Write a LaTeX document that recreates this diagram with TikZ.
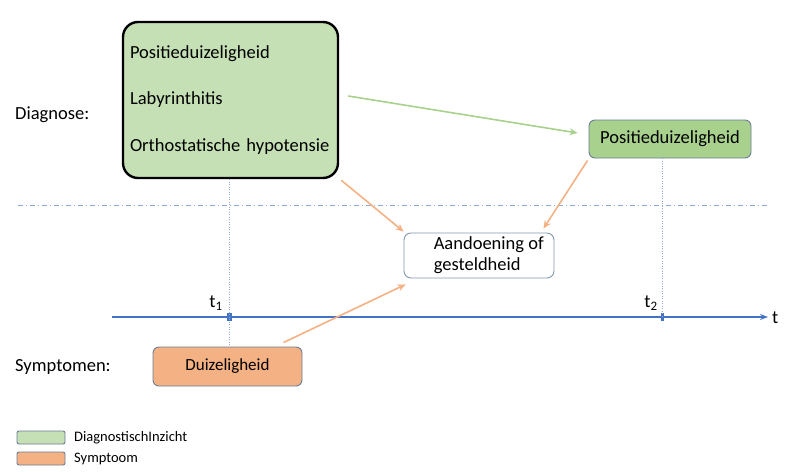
\documentclass[tikz,border=0pt]{standalone}
\usepackage{fontspec}
\setmainfont{Carlito}
\usetikzlibrary{arrows.meta}
\definecolor{gfill}{HTML}{C5E0B4}
\definecolor{gfill2}{HTML}{A9D18E}
\definecolor{ofill}{HTML}{F4B183}
\definecolor{bord}{HTML}{6B7C96}
\definecolor{bord2}{HTML}{8497B0}
\definecolor{tblue}{HTML}{4472C4}
\definecolor{dotblue}{HTML}{8FAADC}
\definecolor{garrow}{HTML}{A9D18E}
\definecolor{oarrow}{HTML}{F4B183}
\tikzset{
  txt/.style={font=\fontsize{18.5}{22}\selectfont, inner sep=0pt},
  smallbox/.style={draw=bord, line width=0.9pt, rounded corners=6pt, inner sep=0pt, font=\fontsize{18.5}{22}\selectfont},
  garr/.style={draw=garrow, line width=1.6pt, -{Stealth[length=8pt,width=7pt]}},
  oarr/.style={draw=oarrow, line width=1.6pt, -{Stealth[length=8pt,width=7pt]}},
  vdot/.style={draw=dotblue, line width=0.7pt, dash pattern=on 1pt off 1.5pt},
  legbox/.style={draw=bord, line width=0.9pt, rounded corners=2pt, minimum width=48pt, minimum height=13pt, inner sep=0pt},
  legtxt/.style={font=\fontsize{14.5}{17}\selectfont, inner sep=0pt, anchor=west},
}
\begin{document}
\begin{tikzpicture}[x=1pt,y=-1pt]
\useasboundingbox (0,0) rectangle (800,471);
% main diagnosis box
\node[draw=black, line width=2.4pt, fill=gfill, rounded corners=15pt, minimum width=215pt, minimum height=156pt, text width=201pt, inner xsep=7pt, inner ysep=0pt, align=left, font=\fontsize{18.5}{46.5}\selectfont] (diag) at (230.5,100) {Positieduizeligheid\\Labyrinthitis\\Orthostatische hypotensie};
\node[txt, anchor=west] (dlab) at (15,115) {Diagnose:};
\node[txt, anchor=west] (slab) at (15,367) {Symptomen:};
% positie box
\node[smallbox, fill=gfill2, minimum width=162pt, minimum height=38pt] (pos) at (670,139) {Positieduizeligheid};
% horizontal dashed line
\coordinate (hl1) at (18,205);
\coordinate (hl2) at (770,205);
\draw[draw=dotblue, line width=0.8pt, dash pattern=on 5pt off 3pt on 1pt off 3pt] (hl1) -- (hl2);
% aandoening
\node[draw=bord2, line width=0.9pt, rounded corners=7pt, fill=white, minimum width=150pt, minimum height=45pt, inner sep=0pt] (aand) at (479,255.5) {};
\node[font=\fontsize{18.5}{21}\selectfont, inner sep=0pt, align=left, anchor=west] (aandtxt) at ([xshift=30pt]aand.west) {Aandoening of\\gesteldheid};
% timeline
\coordinate (ta) at (112,317);
\coordinate (tb) at (768,317);
\draw[draw=tblue, line width=1.3pt, -{Stealth[length=8pt,width=6pt]}] (ta) -- (tb);
\node[txt, anchor=west] (tlab) at (772,318) {t};
\coordinate (t1) at (229,317);
\coordinate (t2) at (662,317);
\fill[tblue] (226.5,313) rectangle (231.5,321);
\fill[tblue] (660.5,313) rectangle (663.5,321);
\node[txt] (t1lab) at (216,303) {t\textsubscript{1}};
\node[txt] (t2lab) at (651,303) {t\textsubscript{2}};
% duizeligheid
\node[smallbox, fill=ofill, minimum width=149pt, minimum height=39pt, font=\fontsize{17}{20}\selectfont] (duiz) at (227.5,366.5) {Duizeligheid};
% vertical dotted
\draw[vdot] (diag.south -| t1) -- (duiz.north -| t1);
\draw[vdot] (pos.south -| t2) -- (t2);
% arrows
\draw[garr] ([xshift=9pt,yshift=4pt]diag.east) -- ([xshift=-11pt,yshift=6pt]pos.west);
\draw[oarr] ([xshift=2pt,yshift=-1pt]diag.south east) -- ([yshift=1pt]aand.north west);
\draw[oarr] ([xshift=-1pt,yshift=-2pt]pos.south west) -- ([xshift=-11pt,yshift=4pt]aand.north east);
\draw[oarr] ([xshift=-19pt,yshift=4pt]duiz.north east) -- ([xshift=2pt,yshift=-6pt]aand.south west);
% legend
\node[legbox, fill=gfill] (lg1) at (41,437.5) {};
\node[legbox, fill=ofill] (lg2) at (41,458.5) {};
\node[legtxt] (lt1) at (74,437.5) {DiagnostischInzicht};
\node[legtxt] (lt2) at (74,458.5) {Symptoom};
\end{tikzpicture}
\end{document}
